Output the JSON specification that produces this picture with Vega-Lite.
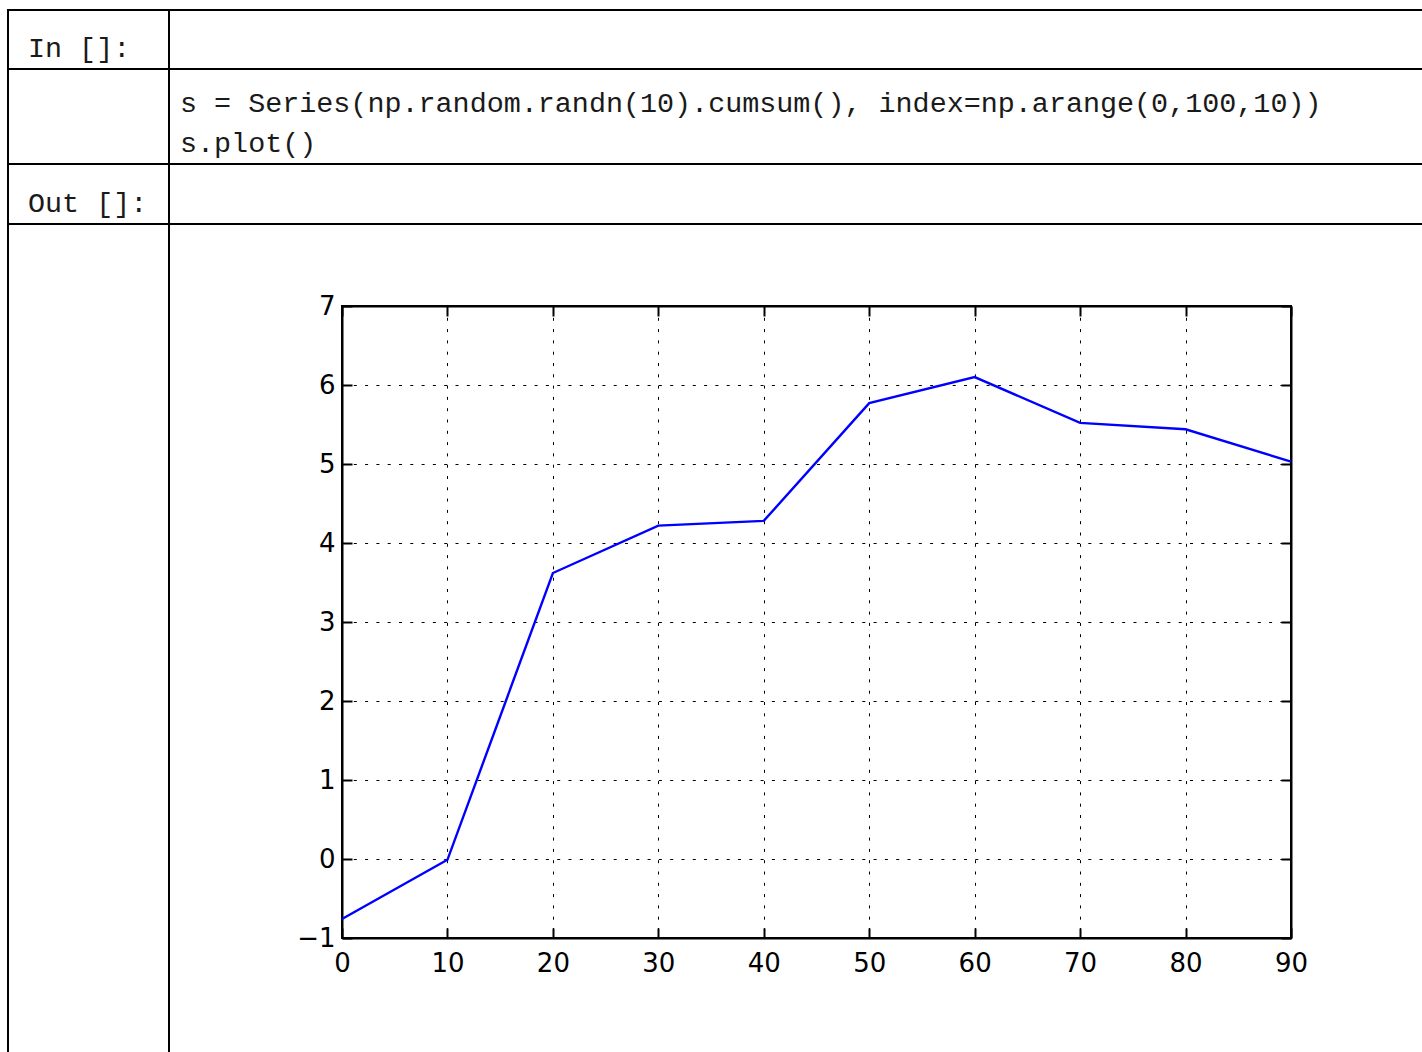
{
  "$schema": "https://vega.github.io/schema/vega-lite/v6.json",
  "background": "white",
  "padding": {"left": 7, "top": 9, "right": 0, "bottom": 0},
  "columns": 2,
  "spacing": 0,
  "bounds": "flush",
  "config": {
    "view": {"stroke": "black", "strokeWidth": 2},
    "title": {
      "font": "Liberation Mono",
      "fontSize": 28.4,
      "fontWeight": "normal",
      "color": "#1a1a1a",
      "anchor": "start",
      "frame": "group",
      "orient": "top",
      "baseline": "alphabetic",
      "offset": 0
    }
  },
  "concat": [
    {
      "width": 161, "height": 59,
      "data": {"values": []},
      "mark": "point",
      "view": {"stroke": "black", "strokeWidth": 2},
      "title": {"text": "In []:", "dx": 20, "dy": 57}
    },
    {
      "width": 1258, "height": 59,
      "data": {"values": []},
      "mark": "point",
      "view": {"stroke": "black", "strokeWidth": 2}
    },
    {
      "width": 161, "height": 95,
      "data": {"values": []},
      "mark": "point",
      "view": {"stroke": "black", "strokeWidth": 2}
    },
    {
      "width": 1258, "height": 95,
      "data": {"values": []},
      "mark": "point",
      "view": {"stroke": "black", "strokeWidth": 2},
      "title": {
        "text": ["s = Series(np.random.randn(10).cumsum(), index=np.arange(0,100,10))", "s.plot()"],
        "dx": 11, "dy": 93, "lineHeight": 40
      }
    },
    {
      "width": 161, "height": 60,
      "data": {"values": []},
      "mark": "point",
      "view": {"stroke": "black", "strokeWidth": 2},
      "title": {"text": "Out []:", "dx": 20, "dy": 58}
    },
    {
      "width": 1258, "height": 60,
      "data": {"values": []},
      "mark": "point",
      "view": {"stroke": "black", "strokeWidth": 2}
    },
    {
      "width": 161, "height": 835,
      "data": {"values": []},
      "mark": "point",
      "view": {"stroke": "black", "strokeWidth": 2}
    },
    {
      "columns": 2,
      "spacing": 0,
      "bounds": "flush",
      "concat": [
        {"width": 173, "height": 82, "data": {"values": []}, "mark": "point", "view": {"stroke": null}},
        {"width": 1, "height": 82, "data": {"values": []}, "mark": "point", "view": {"stroke": null}},
        {"width": 173, "height": 1, "data": {"values": []}, "mark": "point", "view": {"stroke": null}},
        {
          "width": 949,
          "height": 632,
          "data": {"values": [
            {"index": 0, "value": -0.76},
            {"index": 10, "value": -0.01},
            {"index": 20, "value": 3.62},
            {"index": 30, "value": 4.22},
            {"index": 40, "value": 4.28},
            {"index": 50, "value": 5.77},
            {"index": 60, "value": 6.10},
            {"index": 70, "value": 5.52},
            {"index": 80, "value": 5.44},
            {"index": 90, "value": 5.03}
          ]},
          "layer": [
            {
              "mark": {"type": "line", "color": "#0000ff", "strokeWidth": 2.4},
              "encoding": {
                "x": {
                  "field": "index", "type": "quantitative",
                  "scale": {"domain": [0, 90], "nice": false, "zero": false},
                  "axis": {
                    "orient": "bottom",
                    "values": [0, 10, 20, 30, 40, 50, 60, 70, 80, 90],
                    "title": null,
                    "domain": true, "domainColor": "black", "domainWidth": 2,
                    "ticks": true, "tickSize": -10, "tickWidth": 2, "tickColor": "black",
                    "labelFont": "DejaVu Sans", "labelFontSize": 26, "labelColor": "black",
                    "labelPadding": 22.5, "labelFlush": false, "labelOverlap": false,
                    "grid": true, "gridColor": "black", "gridWidth": 1, "gridDash": [3, 8.3], "gridOpacity": 1
                  }
                },
                "y": {
                  "field": "value", "type": "quantitative",
                  "scale": {"domain": [-1, 7], "nice": false, "zero": false},
                  "axis": {
                    "orient": "left",
                    "values": [-1, 0, 1, 2, 3, 4, 5, 6, 7],
                    "labelExpr": "replace(datum.label, '-', '−')",
                    "title": null,
                    "domain": true, "domainColor": "black", "domainWidth": 2,
                    "ticks": true, "tickSize": -10, "tickWidth": 2, "tickColor": "black",
                    "labelFont": "DejaVu Sans", "labelFontSize": 26, "labelColor": "black",
                    "labelPadding": 17, "labelFlush": false, "labelOverlap": false,
                    "grid": true, "gridColor": "black", "gridWidth": 1, "gridDash": [3, 8.3], "gridOpacity": 1
                  }
                }
              }
            },
            {
              "mark": {"type": "line", "opacity": 0},
              "encoding": {
                "x": {
                  "field": "index", "type": "quantitative",
                  "axis": {
                    "orient": "top",
                    "values": [0, 10, 20, 30, 40, 50, 60, 70, 80, 90],
                    "title": null, "labels": false, "grid": false,
                    "domain": true, "domainColor": "black", "domainWidth": 2,
                    "ticks": true, "tickSize": -10, "tickWidth": 2, "tickColor": "black"
                  }
                },
                "y": {
                  "field": "value", "type": "quantitative",
                  "axis": {
                    "orient": "right",
                    "values": [-1, 0, 1, 2, 3, 4, 5, 6, 7],
                    "title": null, "labels": false, "grid": false,
                    "domain": true, "domainColor": "black", "domainWidth": 2,
                    "ticks": true, "tickSize": -10, "tickWidth": 2, "tickColor": "black"
                  }
                }
              }
            }
          ],
          "resolve": {"axis": {"x": "independent", "y": "independent"}}
        }
      ]
    }
  ]
}
